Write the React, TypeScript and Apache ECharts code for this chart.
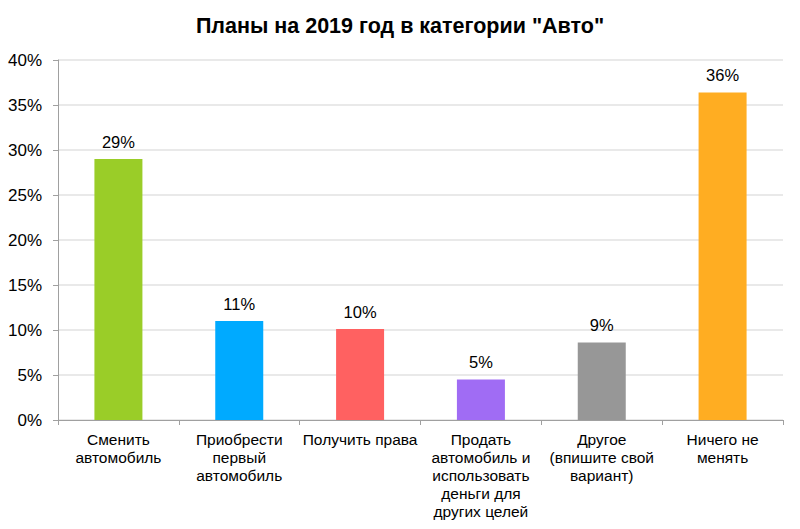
import React, { useEffect, useRef } from "react";
import * as echarts from "echarts";

const titleText = 'Планы на 2019 год в категории "Авто"';
const categories = [
  "Сменить\nавтомобиль",
  "Приобрести\nпервый\nавтомобиль",
  "Получить права",
  "Продать\nавтомобиль и\nиспользовать\nденьги для\nдругих целей",
  "Другое\n(впишите свой\nвариант)",
  "Ничего не\nменять",
];
const values = [29, 11, 10.1, 4.5, 8.6, 36.4];
const colors = ["#9ACD28", "#00AAFF", "#FF6161", "#A06CF4", "#979797", "#FFAD22"];

const FONT = "Liberation Sans, Arial, sans-serif";

export default function App() {
  const ref = useRef<HTMLDivElement>(null);
  useEffect(() => {
    const chart = echarts.init(ref.current!, null, { renderer: "svg" });
    chart.setOption({
      animation: false,
      backgroundColor: "#ffffff",
      title: {
        text: titleText,
        left: "center",
        top: 10,
        textStyle: { fontFamily: FONT, fontSize: 21.5, fontWeight: "bold", color: "#000" },
      },
      grid: { left: 58, right: 17, top: 60, bottom: 109, containLabel: false },
      xAxis: {
        type: "category",
        data: categories,
        axisLine: { lineStyle: { color: "#A0A0A0", width: 1 } },
        axisTick: { show: true, alignWithLabel: false, length: 5, lineStyle: { color: "#A0A0A0" } },
        axisLabel: {
          interval: 0,
          fontFamily: FONT,
          fontSize: 15.5,
          color: "#000",
          lineHeight: 18,
          margin: 10,
        },
      },
      yAxis: {
        type: "value",
        min: 0,
        max: 40,
        interval: 5,
        axisLine: { show: true, lineStyle: { color: "#A0A0A0", width: 1 } },
        axisTick: { show: true, length: 5, lineStyle: { color: "#A0A0A0" } },
        splitLine: { lineStyle: { color: "#E2E2E2", width: 1.5 } },
        axisLabel: {
          formatter: (v: number) => v + "%",
          fontFamily: FONT,
          fontSize: 17,
          color: "#000",
          margin: 16,
        },
      },
      series: [
        {
          type: "bar",
          data: values.map((v, i) => ({ value: v, itemStyle: { color: colors[i] } })),
          barWidth: 48,
          label: {
            show: true,
            position: "top",
            distance: 9,
            formatter: (p: any) => Math.round(p.value) + "%",
            fontFamily: FONT,
            fontSize: 16.5,
            color: "#000",
          },
        },
      ],
    });
    return () => chart.dispose();
  }, []);
  return <div ref={ref} style={{ width: 800, height: 529, position: "absolute", left: 0, top: 0 }} />;
}
